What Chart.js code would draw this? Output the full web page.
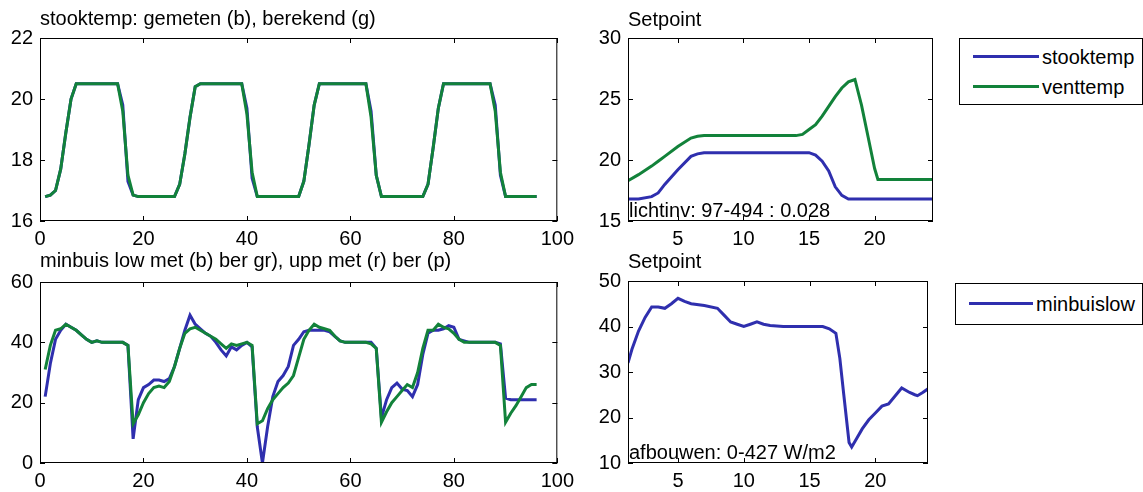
<!DOCTYPE html>
<html>
<head>
<meta charset="utf-8">
<script src="https://cdn.jsdelivr.net/npm/chart.js@4/dist/chart.umd.min.js"></script>
<style>
  body { margin: 0; background: #fff; }
  #wrap { position: relative; width: 1143px; height: 492px; overflow: hidden; }
  canvas { position: absolute; }
  .legend { position: absolute; border: 1px solid #000; background: #fff; box-sizing: border-box;
            font-family: 'Liberation Sans', Arial, sans-serif; font-size: 20px; }
  .item { position: absolute; left: 0; height: 22px; line-height: 22px; white-space: nowrap; }
  .item i { position: absolute; top: 9px; height: 3px; }
  .item span { position: absolute; }
</style>
</head>
<body>
<div id="wrap">
  <canvas id="c3" width="580" height="246" style="left:0;top:246px"></canvas>
  <canvas id="c4" width="370" height="246" style="left:580px;top:246px"></canvas>
  <canvas id="c1" width="580" height="262" style="left:0;top:0"></canvas>
  <canvas id="c2" width="370" height="262" style="left:580px;top:0"></canvas>
  <div class="legend" style="left:959px;top:38px;width:184px;height:67px">
    <div class="item" style="top:7px"><i style="left:13px;width:66px;background:#2f2fae"></i><span style="left:82px">stooktemp</span></div>
    <div class="item" style="top:37px"><i style="left:13px;width:66px;background:#12823a"></i><span style="left:82px">venttemp</span></div>
  </div>
  <div class="legend" style="left:955px;top:283px;width:188px;height:42px">
    <div class="item" style="top:9px"><i style="left:13px;width:64px;background:#2f2fae"></i><span style="left:80px">minbuislow</span></div>
  </div>
</div>
<script>
// --- data ---
// top left: quarter hours 1..96
const quarterIdx = Array.from({ length: 96 }, (_, i) => i + 1);
const stookGemeten = [
  16.8, 16.85, 17.0, 17.7, 18.9, 20.0, 20.5, 20.5, 20.5, 20.5,
  20.5, 20.5, 20.5, 20.5, 20.5, 19.8, 17.3, 16.85, 16.8, 16.8,
  16.8, 16.8, 16.8, 16.8, 16.8, 16.8, 17.2, 18.2, 19.4, 20.4,
  20.5, 20.5, 20.5, 20.5, 20.5, 20.5, 20.5, 20.5, 20.5, 19.7,
  17.4, 16.8, 16.8, 16.8, 16.8, 16.8, 16.8, 16.8, 16.8, 16.8,
  17.3, 18.5, 19.8, 20.5, 20.5, 20.5, 20.5, 20.5, 20.5, 20.5,
  20.5, 20.5, 20.5, 19.6, 17.5, 16.8, 16.8, 16.8, 16.8, 16.8,
  16.8, 16.8, 16.8, 16.8, 17.2, 18.4, 19.7, 20.5, 20.5, 20.5,
  20.5, 20.5, 20.5, 20.5, 20.5, 20.5, 20.5, 19.8, 17.5, 16.8,
  16.8, 16.8, 16.8, 16.8, 16.8, 16.8
];
const stookBerekend = [
  16.8, 16.85, 17.0, 17.7, 18.9, 20.0, 20.5, 20.5, 20.5, 20.5,
  20.5, 20.5, 20.5, 20.5, 20.5, 19.6, 17.5, 16.85, 16.8, 16.8,
  16.8, 16.8, 16.8, 16.8, 16.8, 16.8, 17.2, 18.2, 19.4, 20.4,
  20.5, 20.5, 20.5, 20.5, 20.5, 20.5, 20.5, 20.5, 20.5, 19.5,
  17.6, 16.8, 16.8, 16.8, 16.8, 16.8, 16.8, 16.8, 16.8, 16.8,
  17.3, 18.5, 19.8, 20.5, 20.5, 20.5, 20.5, 20.5, 20.5, 20.5,
  20.5, 20.5, 20.5, 19.4, 17.5, 16.8, 16.8, 16.8, 16.8, 16.8,
  16.8, 16.8, 16.8, 16.8, 17.2, 18.4, 19.7, 20.5, 20.5, 20.5,
  20.5, 20.5, 20.5, 20.5, 20.5, 20.5, 20.5, 19.6, 17.6, 16.8,
  16.8, 16.8, 16.8, 16.8, 16.8, 16.8
];

// bottom left
const minbuisLowMet = [
  22, 33, 41, 44, 46, 45, 44, 42.5, 41, 40,
  40.5, 40, 40, 40, 40, 40, 39, 8, 21, 25,
  26, 27.5, 27.5, 27, 28, 32, 38, 44, 49, 46,
  44.5, 43, 42, 40, 37.5, 35.5, 38.5, 37.5, 39, 40,
  38.5, 12, 0, 12, 22, 27, 29, 32, 39, 41,
  43.5, 44, 44, 44, 44, 43.5, 42, 40.5, 40, 40,
  40, 40, 40, 40, 38, 15, 21, 25, 26.5, 24.5,
  24, 22, 26, 36, 43, 44, 44, 44.5, 45.5, 45,
  41, 40.5, 40, 40, 40, 40, 40, 40, 39.5, 21.5,
  21, 21, 21, 21, 21, 21
];
const minbuisLowBer = [
  31, 39, 44, 44.5, 46, 45, 44, 42.5, 41, 40,
  40.5, 40, 40, 40, 40, 40, 39, 13, 16, 20,
  23, 25, 25.5, 25, 27, 32, 38, 43, 44.5, 45,
  44, 43, 42, 41, 39.5, 38, 39.5, 39, 39.5, 40,
  39, 13, 14, 18, 21, 23, 25, 26.5, 29, 35,
  41, 44, 46, 45, 44.5, 44, 42, 40.5, 40, 40,
  40, 40, 40, 39.5, 38, 13.5, 17, 20, 22, 24,
  26, 25, 30, 38, 44, 44, 46, 45, 44.5, 43,
  41, 40, 40, 40, 40, 40, 40, 40, 39, 13.5,
  16.5, 19, 22, 25, 26, 26
];

// top right: setpoints over the day
const setpointHour = [1.2, 2, 3, 3.5, 4, 5, 6, 6.5, 7, 8, 10, 12, 14, 14.5, 15, 15.5, 16, 16.5, 17, 17.5,
  18, 18.5, 19, 19.5, 20, 20.25, 21, 22, 23, 24.45];
const stooktemp = [16.8, 16.8, 17.0, 17.3, 18.0, 19.2, 20.3, 20.5, 20.6, 20.6, 20.6, 20.6, 20.6, 20.6, 20.6, 20.4, 19.9, 19.1, 17.8, 17.1,
  16.8, 16.8, 16.8, 16.8, 16.8, 16.8, 16.8, 16.8, 16.8, 16.8];
const venttemp = [18.3, 18.8, 19.5, 19.9, 20.3, 21.1, 21.8, 21.95, 22.0, 22.0, 22.0, 22.0, 22.0, 22.1, 22.5, 22.9, 23.6, 24.4, 25.2, 25.9,
  26.4, 26.6, 24.5, 21.9, 19.3, 18.4, 18.4, 18.4, 18.4, 18.4];

// bottom right
const buisHour = [1.2, 1.5, 2, 2.5, 3, 3.5, 4, 4.5, 5, 5.5, 6, 7, 8, 8.5, 9, 9.5, 10, 10.5, 11, 11.5,
  12, 13, 14, 15, 16, 16.5, 17, 17.3, 17.6, 18, 18.2, 18.6, 19, 19.5, 20, 20.5, 21, 22, 22.6, 23,
  23.2, 23.6, 24];
const minbuislow = [32, 35, 39, 42, 44.3, 44.3, 44, 45, 46.2, 45.5, 45, 44.6, 44, 42.5, 41, 40.5, 40, 40.5, 41, 40.5,
  40.2, 40, 40, 40, 40, 39.5, 38.5, 33, 25, 14.5, 13.5, 15.5, 17.5, 19.5, 21, 22.5, 23, 26.5, 25.5, 25,
  24.8, 25.5, 26.3];

// tick labels
const ticksQuarter = [0, 20, 40, 60, 80, 100];
const ticksHour = [5, 10, 15, 20];
const ticksStook = [16, 18, 20, 22];
const ticksSetpoint = [15, 20, 25, 30];
const ticksMinbuis = [0, 20, 40, 60];
const ticksBuisSp = [10, 20, 30, 40, 50];

const BLUE = '#2f2fae';
const GREEN = '#12823a';
const FONT = "'Liberation Sans', Arial, sans-serif";

function pts(xs, ys) {
  return xs.map((x, i) => ({ x: x, y: ys[i] }));
}

// box round the axes, inward ticks on all four sides, title and note text
const matlabFrame = {
  id: 'matlabFrame',
  afterDatasetsDraw(chart, args, opts) {
    const ctx = chart.ctx;
    const a = chart.chartArea;
    const xs = chart.scales.x, ys = chart.scales.y;
    ctx.save();
    ctx.strokeStyle = '#000';
    ctx.lineWidth = 1;
    ctx.strokeRect(a.left + 0.5, a.top + 0.5, a.right - a.left - 1, a.bottom - a.top - 1);
    ctx.beginPath();
    xs.ticks.forEach(t => {
      const p = Math.round(xs.getPixelForValue(t.value)) + 0.5;
      ctx.moveTo(p, a.bottom); ctx.lineTo(p, a.bottom - 5);
      ctx.moveTo(p, a.top); ctx.lineTo(p, a.top + 5);
    });
    ys.ticks.forEach(t => {
      const p = Math.round(ys.getPixelForValue(t.value)) + 0.5;
      ctx.moveTo(a.left, p); ctx.lineTo(a.left + 5, p);
      ctx.moveTo(a.right, p); ctx.lineTo(a.right - 5, p);
    });
    ctx.stroke();
    ctx.fillStyle = '#000';
    ctx.textAlign = 'left';
    ctx.textBaseline = 'alphabetic';
    ctx.font = '20px ' + FONT;
    if (opts.title) ctx.fillText(opts.title, a.left, a.top - (opts.titleGap || 13));
    if (opts.note) ctx.fillText(opts.note, a.left + 1, a.bottom - 4);
    ctx.restore();
  }
};

function makeChart(id, datasets, xr, yr, xTicks, yTicks, frame, lay) {
  return new Chart(document.getElementById(id), {
    type: 'line',
    data: { datasets: datasets },
    plugins: [matlabFrame],
    options: {
      responsive: false,
      animation: false,
      layout: { padding: { top: lay.top, right: lay.right, left: 0, bottom: 0 } },
      elements: { point: { radius: 0 }, line: { borderWidth: 3, tension: 0 } },
      plugins: { legend: { display: false }, tooltip: { enabled: false }, matlabFrame: frame },
      scales: {
        x: {
          type: 'linear', min: xr[0], max: xr[1],
          grid: { display: false, drawTicks: false }, border: { display: false },
          afterBuildTicks: s => { s.ticks = xTicks.map(v => ({ value: v })); },
          afterFit: s => { s.height = lay.bottom; },
          ticks: { color: '#000', padding: 6, maxRotation: 0, font: { family: FONT, size: 20 } }
        },
        y: {
          type: 'linear', min: yr[0], max: yr[1],
          grid: { display: false, drawTicks: false }, border: { display: false },
          afterBuildTicks: s => { s.ticks = yTicks.map(v => ({ value: v })); },
          afterFit: s => { s.width = lay.left; },
          ticks: { color: '#000', padding: 7, font: { family: FONT, size: 20 } }
        }
      }
    }
  });
}

makeChart('c1', [
  { data: pts(quarterIdx, stookBerekend), borderColor: GREEN },
  { data: pts(quarterIdx, stookGemeten), borderColor: BLUE }
], [0, 100], [16, 22], ticksQuarter, ticksStook,
  { title: 'stooktemp: gemeten (b), berekend (g)', titleGap: 13 },
  { top: 38, right: 21, left: 40, bottom: 41 });

makeChart('c2', [
  { data: pts(setpointHour, stooktemp), borderColor: BLUE },
  { data: pts(setpointHour, venttemp), borderColor: GREEN }
], [1.2, 24.45], [15, 30], ticksHour, ticksSetpoint,
  { title: 'Setpoint', note: 'lichtinv: 97-494 : 0.028', titleGap: 12 },
  { top: 38, right: 17, left: 48, bottom: 41 });

makeChart('c3', [
  { data: pts(quarterIdx, minbuisLowBer), borderColor: GREEN },
  { data: pts(quarterIdx, minbuisLowMet), borderColor: BLUE }
], [0, 100], [0, 60], ticksQuarter, ticksMinbuis,
  { title: 'minbuis low met (b) ber gr), upp met (r) ber (p)', titleGap: 15 },
  { top: 36, right: 21, left: 40, bottom: 29 });

makeChart('c4', [
  { data: pts(buisHour, minbuislow), borderColor: BLUE }
], [1.2, 24], [10, 50], ticksHour, ticksBuisSp,
  { title: 'Setpoint', note: 'afbouwen: 0-427 W/m2', titleGap: 13 },
  { top: 35, right: 22, left: 48, bottom: 29 });
</script>
</body>
</html>
